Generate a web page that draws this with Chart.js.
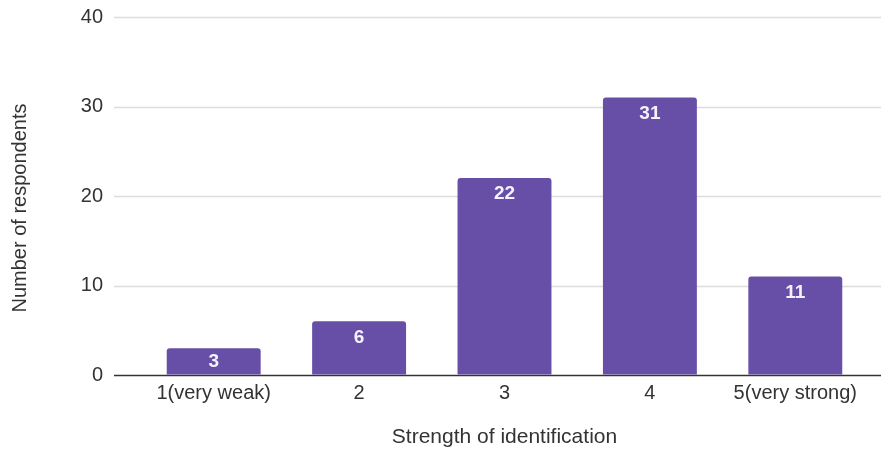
<!DOCTYPE html>
<html>
<head>
<meta charset="utf-8">
<script src="https://cdn.jsdelivr.net/npm/chart.js@4/dist/chart.umd.min.js"></script>
<style>
  html, body { margin: 0; padding: 0; background: #fff; }
  #wrap { width: 881px; height: 450px; position: relative; }
</style>
</head>
<body>
<div id="wrap"><canvas id="c"></canvas></div>
<script>
// Survey responses: strength of identification (1–5)
const categories = ['1(very weak)', '2', '3', '4', '5(very strong)'];
const respondents = [3, 6, 22, 31, 11];
const yTicks = [0, 10, 20, 30, 40];
const yTitle = 'Number of respondents';
const xTitle = 'Strength of identification';

const FONT = "'Liberation Sans', Arial, sans-serif";
const BAR = '#674ea7';
const TEXT = '#333333';

// Horizontal grid lines running the full width, baseline darker
const gridPlugin = {
  id: 'wideGrid',
  beforeDatasetsDraw(chart) {
    const ctx = chart.ctx, y = chart.scales.y;
    ctx.save();
    yTicks.forEach(v => {
      const py = Math.round(y.getPixelForValue(v)) + 0.5;
      ctx.beginPath();
      ctx.strokeStyle = v === 0 ? '#333333' : '#dcdcdc';
      ctx.lineWidth = v === 0 ? 1.5 : 1.3;
      ctx.moveTo(114, py);
      ctx.lineTo(chart.width, py);
      ctx.stroke();
    });
    ctx.restore();
  }
};

// Rotated y-axis title, placed beside the plot
const yTitlePlugin = {
  id: 'yTitle',
  afterDraw(chart) {
    const ctx = chart.ctx, a = chart.chartArea;
    ctx.save();
    ctx.translate(20, (a.top + a.bottom) / 2 + 12);
    ctx.rotate(-Math.PI / 2);
    ctx.fillStyle = TEXT;
    ctx.font = '20px ' + FONT;
    ctx.textAlign = 'center';
    ctx.textBaseline = 'middle';
    ctx.fillText(yTitle, 0, 0);
    ctx.restore();
  }
};

// Value labels inside the top of each bar
const valueLabels = {
  id: 'valueLabels',
  afterDatasetsDraw(chart) {
    const ctx = chart.ctx;
    const meta = chart.getDatasetMeta(0);
    ctx.save();
    ctx.fillStyle = '#f4f2fa';
    ctx.font = 'bold 19px ' + FONT;
    ctx.textAlign = 'center';
    ctx.textBaseline = 'middle';
    meta.data.forEach((bar, i) => {
      const h = bar.base - bar.y;
      ctx.fillText(String(respondents[i]), bar.x, bar.y + Math.min(16, h / 2));
    });
    ctx.restore();
  }
};

new Chart(document.getElementById('c'), {
  type: 'bar',
  data: {
    labels: categories,
    datasets: [{
      data: respondents,
      backgroundColor: BAR,
      borderRadius: { topLeft: 3, topRight: 3, bottomLeft: 0, bottomRight: 0 },
      borderSkipped: 'bottom',
      barPercentage: 0.646,
      categoryPercentage: 1.0
    }]
  },
  options: {
    responsive: true,
    maintainAspectRatio: false,
    animation: false,
    layout: { padding: { top: 16, right: 13, left: 0, bottom: 0 } },
    plugins: {
      legend: { display: false },
      tooltip: { enabled: false }
    },
    scales: {
      x: {
        grid: { display: false, drawTicks: false },
        border: { display: false },
        ticks: {
          color: TEXT,
          font: { family: FONT, size: 20 },
          padding: 6,
          maxRotation: 0,
          autoSkip: false
        },
        title: {
          display: true,
          text: xTitle,
          color: TEXT,
          font: { family: FONT, size: 21 },
          padding: { top: 0, bottom: 0 }
        },
        afterFit(scale) { scale.height = 75; }
      },
      y: {
        min: 0,
        max: 40,
        afterBuildTicks(scale) { scale.ticks = yTicks.map(v => ({ value: v })); },
        grid: { display: true, drawOnChartArea: false, drawTicks: true, tickLength: 33, color: 'rgba(0,0,0,0)' },
        border: { display: false },
        ticks: {
          color: TEXT,
          font: { family: FONT, size: 20 },
          padding: 5
        },
        title: { display: false },
        afterFit(scale) { scale.width = 141; }
      }
    }
  },
  plugins: [gridPlugin, valueLabels, yTitlePlugin]
});
</script>
</body>
</html>
